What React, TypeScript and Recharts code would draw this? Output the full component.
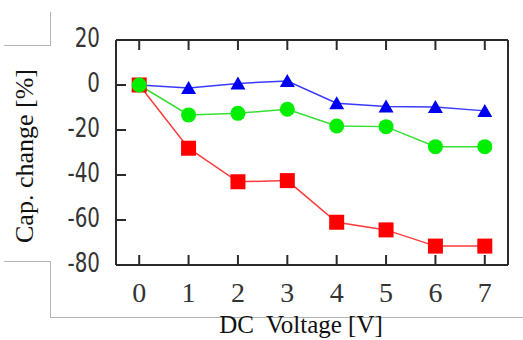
import { LineChart, Line, XAxis, YAxis, Label } from 'recharts';

// DC bias characteristic of three capacitor types
const voltages = [0, 1, 2, 3, 4, 5, 6, 7];
const blueChange = [0, -1.3, 0.7, 1.8, -8.1, -9.6, -9.8, -11.5];
const greenChange = [0, -13.3, -12.6, -10.8, -18.2, -18.5, -27.4, -27.4];
const redChange = [0, -28.1, -43, -42.5, -61, -64.4, -71.6, -71.6];
const yTicks = [-80, -60, -40, -20, 0, 20];

const data = voltages.map((v, i) => ({
  v,
  blue: blueChange[i],
  green: greenChange[i],
  red: redChange[i],
}));

const AXIS = '#2a2a2a';
const TICK_TXT = '#333';
const TICK_LEN = 10;
const SERIF = '"Liberation Serif", "Times New Roman", serif';
const NARROW = '"Liberation Sans Narrow", "DejaVu Sans Condensed", "Liberation Sans", sans-serif';

function BottomTick(props: any) {
  const { x, y, payload } = props;
  return (
    <g>
      <line x1={x} x2={x} y1={y} y2={y - TICK_LEN} stroke={AXIS} strokeWidth={2} />
      <text x={x} y={y + 37} textAnchor="middle" fontFamily={SERIF} fontSize={28} fill={TICK_TXT}>
        {payload.value}
      </text>
    </g>
  );
}

function TopTick(props: any) {
  const { x, y } = props;
  return <line x1={x} x2={x} y1={y} y2={y + TICK_LEN} stroke={AXIS} strokeWidth={2} />;
}

function LeftTick(props: any) {
  const { x, y, payload } = props;
  // condensed look of the original tick font
  return (
    <g>
      <line x1={x} x2={x + TICK_LEN} y1={y} y2={y} stroke={AXIS} strokeWidth={2} />
      <text
        x={0}
        y={0}
        transform={`translate(${x - 16} ${y + 7}) scale(0.85 1)`}
        textAnchor="end"
        fontFamily={NARROW}
        fontSize={26}
        fill={TICK_TXT}
      >
        {payload.value}
      </text>
    </g>
  );
}

function RightTick(props: any) {
  const { x, y } = props;
  return <line x1={x} x2={x - TICK_LEN} y1={y} y2={y} stroke={AXIS} strokeWidth={2} />;
}

const triangle = (p: any) => (
  <path
    key={`t${p.index}`}
    d={`M${p.cx},${p.cy - 7} L${p.cx + 7.5},${p.cy + 6} L${p.cx - 7.5},${p.cy + 6} Z`}
    fill="#0000f0"
  />
);
const square = (p: any) => (
  <rect key={`s${p.index}`} x={p.cx - 7.5} y={p.cy - 7.5} width={15} height={15} fill="#ff0000" />
);
const circle = (p: any) => <circle key={`c${p.index}`} cx={p.cx} cy={p.cy} r={7.5} fill="#00ee00" />;

const grayLine = (s: React.CSSProperties): React.CSSProperties => ({
  position: 'absolute',
  background: '#b4b4b4',
  ...s,
});

export default function App() {
  return (
    <div style={{ position: 'absolute', left: 0, top: 0, width: 523, height: 340, background: '#fff', overflow: 'hidden' }}>
      <div style={grayLine({ left: 4, top: 45, width: 46, height: 1 })} />
      <div style={grayLine({ left: 50, top: 12, width: 1, height: 34 })} />
      <div style={grayLine({ left: 4, top: 261, width: 46, height: 1 })} />
      <div style={grayLine({ left: 50, top: 261, width: 1, height: 56 })} />
      <div style={grayLine({ left: 50, top: 317, width: 473, height: 1 })} />
      <LineChart
        width={523}
        height={340}
        data={data}
        margin={{ top: 39, right: 14, bottom: 45, left: 56 }}
        style={{ position: 'absolute', left: 0, top: 0 }}
      >
        <XAxis
          xAxisId="b"
          dataKey="v"
          type="number"
          domain={[-0.47, 7.47]}
          ticks={voltages}
          interval={0}
          height={30}
          tickSize={0}
          tickMargin={0}
          tickLine={false}
          tick={BottomTick}
          axisLine={{ stroke: AXIS, strokeWidth: 2 }}
        >
          <Label
            content={() => (
              <text x={301} y={333} textAnchor="middle" fontFamily={SERIF} fontSize={25} fill="#111" style={{ whiteSpace: 'pre' }}>
                {'DC  Voltage [V]'}
              </text>
            )}
          />
        </XAxis>
        <XAxis
          xAxisId="t"
          dataKey="v"
          orientation="top"
          type="number"
          domain={[-0.47, 7.47]}
          ticks={voltages}
          interval={0}
          height={1}
          tickSize={0}
          tickMargin={0}
          tickLine={false}
          tick={TopTick}
          axisLine={{ stroke: AXIS, strokeWidth: 2 }}
        />
        <YAxis
          yAxisId="l"
          type="number"
          domain={[-80, 20]}
          ticks={yTicks}
          interval={0}
          width={60}
          tickSize={0}
          tickMargin={0}
          tickLine={false}
          tick={LeftTick}
          axisLine={{ stroke: AXIS, strokeWidth: 2 }}
        >
          <Label
            content={() => (
              <text
                x={0}
                y={0}
                transform="translate(33 156) rotate(-90)"
                textAnchor="middle"
                fontFamily={SERIF}
                fontSize={26}
                fill="#111"
              >
                Cap. change [%]
              </text>
            )}
          />
        </YAxis>
        <YAxis
          yAxisId="r"
          orientation="right"
          type="number"
          domain={[-80, 20]}
          ticks={yTicks}
          interval={0}
          width={1}
          tickSize={0}
          tickMargin={0}
          tickLine={false}
          tick={RightTick}
          axisLine={{ stroke: AXIS, strokeWidth: 2 }}
        />
        <Line
          xAxisId="b"
          yAxisId="l"
          dataKey="blue"
          stroke="#3a3aff"
          strokeWidth={1.5}
          dot={triangle}
          isAnimationActive={false}
        />
        <Line
          xAxisId="b"
          yAxisId="l"
          dataKey="red"
          stroke="#ff3a3a"
          strokeWidth={1.5}
          dot={square}
          isAnimationActive={false}
        />
        <Line
          xAxisId="b"
          yAxisId="l"
          dataKey="green"
          stroke="#33e033"
          strokeWidth={1.5}
          dot={circle}
          isAnimationActive={false}
        />
      </LineChart>
    </div>
  );
}
